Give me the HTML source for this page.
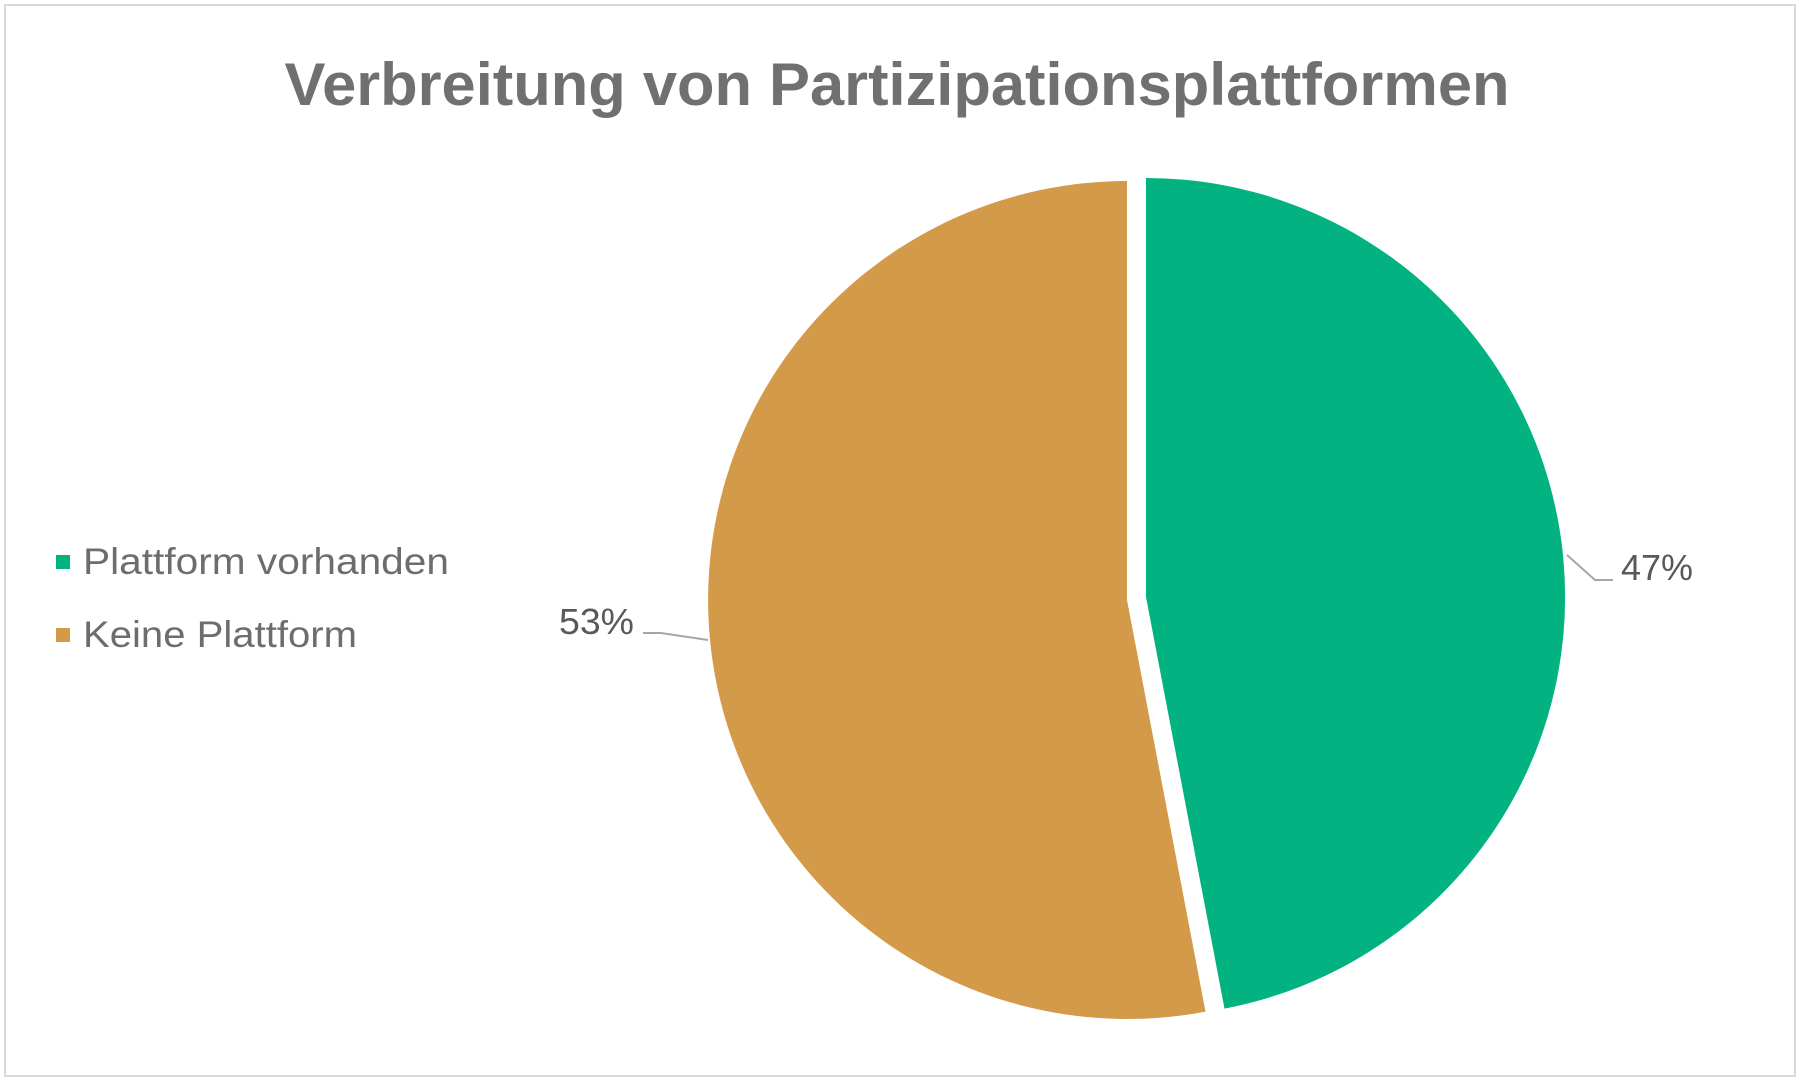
<!DOCTYPE html>
<html><head><meta charset="utf-8"><style>html,body{margin:0;padding:0;background:#fff}svg{display:block}</style></head>
<body>
<svg width="1801" height="1081" viewBox="0 0 1801 1081" xmlns="http://www.w3.org/2000/svg" font-family="Liberation Sans, sans-serif">
<rect x="5" y="5" width="1790" height="1071" fill="#fff" stroke="#d9d9d9" stroke-width="2"/>
<text x="897" y="105" text-anchor="middle" font-size="60" font-weight="bold" fill="#707070" textLength="1225" lengthAdjust="spacingAndGlyphs">Verbreitung von Partizipationsplattformen</text>
<path d="M1146,597 L1146,178 A419,419 0 0 1 1224.5,1008.6 Z" fill="#03b281"/>
<path d="M1127,600 L1205.5,1011.6 A419,419 0 1 1 1127,181 Z" fill="#d39a4a"/>
<path d="M1567,555 L1595,580 L1613,580" fill="none" stroke="#a6a6a6" stroke-width="2"/>
<text x="1621" y="580" font-size="36" fill="#595959" textLength="72" lengthAdjust="spacingAndGlyphs">47%</text>
<path d="M643,633 L661,633 L708,640" fill="none" stroke="#a6a6a6" stroke-width="2"/>
<text x="559" y="634" font-size="36" fill="#595959" textLength="75" lengthAdjust="spacingAndGlyphs">53%</text>
<rect x="56" y="555" width="14" height="14" fill="#03b281"/>
<text x="83" y="574" font-size="37" fill="#6d6d6d" textLength="366" lengthAdjust="spacingAndGlyphs">Plattform vorhanden</text>
<rect x="56" y="628" width="14" height="14" fill="#d39a4a"/>
<text x="83" y="647" font-size="37" fill="#6d6d6d" textLength="274" lengthAdjust="spacingAndGlyphs">Keine Plattform</text>
</svg>
</body></html>
